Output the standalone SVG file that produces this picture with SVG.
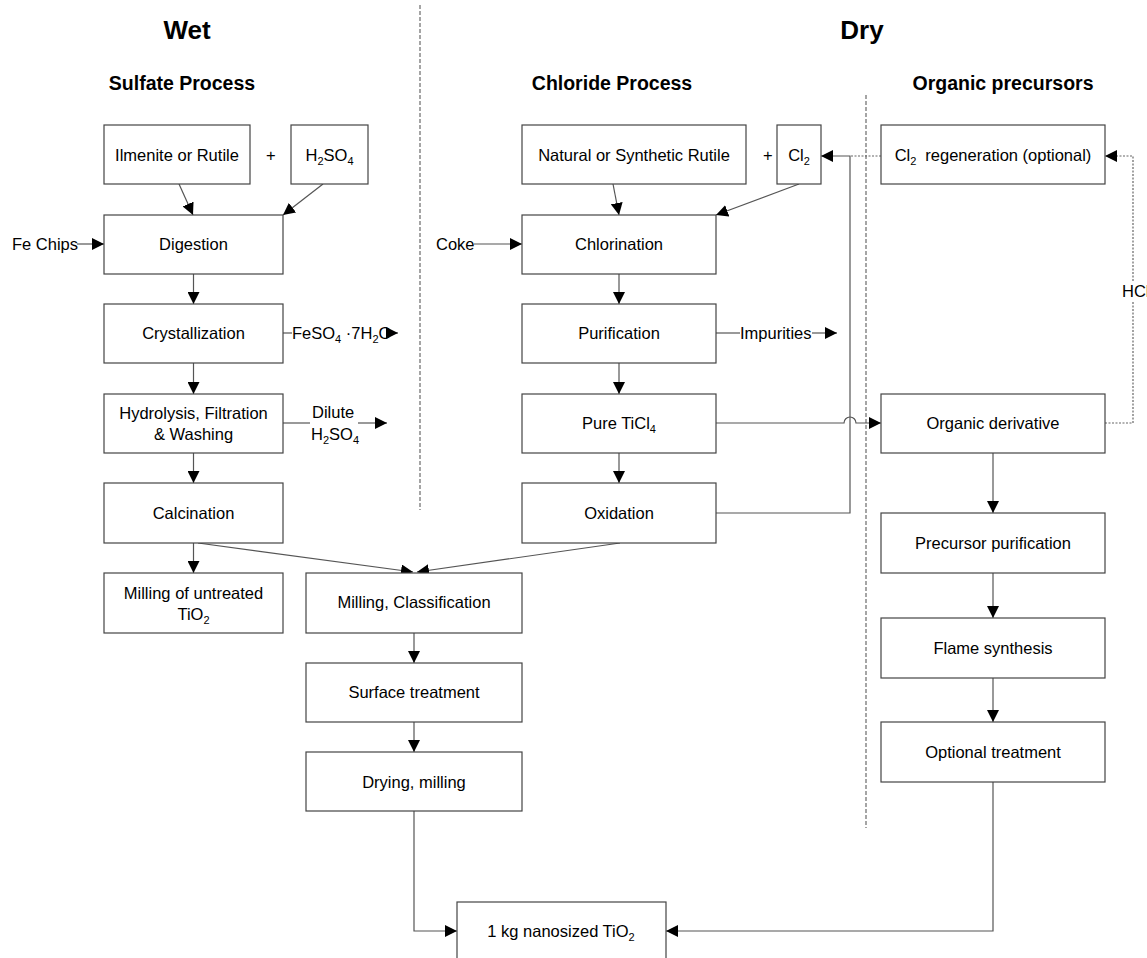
<svg xmlns="http://www.w3.org/2000/svg" width="1147" height="958" viewBox="0 0 1147 958">
<style>
text{font-family:"Liberation Sans",Arial,sans-serif;fill:#000}
.n{font-size:16.5px;text-anchor:middle}
.l{font-size:16.5px}
.t1{font-size:26px;font-weight:bold;text-anchor:middle}
.t2{font-size:19.5px;font-weight:bold;text-anchor:middle}
.box{fill:#fff;stroke:#444;stroke-width:1.2}
.c{fill:none;stroke:#555;stroke-width:1.2}
.d{fill:none;stroke:#666;stroke-width:1.2;stroke-dasharray:2,1.5}
.sep{fill:none;stroke:#888;stroke-width:1.5;stroke-dasharray:4,2}
.s{font-size:11px}
</style>
<defs>
<marker id="a" markerUnits="userSpaceOnUse" markerWidth="12" markerHeight="12" viewBox="0 0 12 12" refX="12" refY="6" orient="auto">
<path d="M0,0 L12,6 L0,12 z" fill="#000"/>
</marker>
</defs>
<rect width="1147" height="958" fill="#fff"/>

<g id="titles">
<text class="t1" x="187" y="39">Wet</text>
<text class="t1" x="862" y="39">Dry</text>
<text class="t2" x="182" y="90">Sulfate Process</text>
<text class="t2" x="612" y="90">Chloride Process</text>
<text class="t2" x="1003" y="90">Organic precursors</text>
</g>

<g id="separators">
<line class="sep" x1="420" y1="5" x2="420" y2="510"/>
<line class="sep" x1="866" y1="95" x2="866" y2="828"/>
</g>

<g id="connectors">
<line class="c" x1="77" y1="244" x2="104" y2="244" marker-end="url(#a)"/>
<line class="c" x1="474" y1="244" x2="522" y2="244" marker-end="url(#a)"/>
<line class="c" x1="179" y1="184" x2="193" y2="215" marker-end="url(#a)"/>
<line class="c" x1="323" y1="184" x2="283" y2="215" marker-end="url(#a)"/>
<line class="c" x1="613" y1="184" x2="619" y2="215" marker-end="url(#a)"/>
<line class="c" x1="799" y1="184" x2="716" y2="215" marker-end="url(#a)"/>
<line class="c" x1="193.5" y1="274" x2="193.5" y2="304" marker-end="url(#a)"/>
<line class="c" x1="193.5" y1="363" x2="193.5" y2="394" marker-end="url(#a)"/>
<line class="c" x1="193.5" y1="453" x2="193.5" y2="483" marker-end="url(#a)"/>
<line class="c" x1="193.5" y1="543" x2="193.5" y2="573" marker-end="url(#a)"/>
<line class="c" x1="619" y1="274" x2="619" y2="304" marker-end="url(#a)"/>
<line class="c" x1="619" y1="363" x2="619" y2="394" marker-end="url(#a)"/>
<line class="c" x1="619" y1="453" x2="619" y2="483" marker-end="url(#a)"/>
<line class="c" x1="283" y1="333" x2="292" y2="333"/>
<line class="c" x1="386" y1="333" x2="398" y2="333" marker-end="url(#a)"/>
<line class="c" x1="283" y1="423" x2="310" y2="423"/>
<line class="c" x1="358" y1="423" x2="387" y2="423" marker-end="url(#a)"/>
<line class="c" x1="716" y1="333" x2="740" y2="333"/>
<line class="c" x1="812" y1="333" x2="837" y2="333" marker-end="url(#a)"/>
<path class="c" d="M716,423 H844 A6,6 0 0 1 856,423 H881" marker-end="url(#a)"/>
<path class="c" d="M716,513 H850 V156 H821" marker-end="url(#a)"/>
<line class="d" x1="881" y1="156" x2="850" y2="156"/>
<path class="d" d="M1105,423 H1133 V301"/>
<path class="d" d="M1133,281 V156 H1105" marker-end="url(#a)"/>
<line class="c" x1="198" y1="543" x2="413" y2="572" marker-end="url(#a)"/>
<line class="c" x1="620" y1="543" x2="417" y2="572" marker-end="url(#a)"/>
<line class="c" x1="414" y1="633" x2="414" y2="663" marker-end="url(#a)"/>
<line class="c" x1="414" y1="722" x2="414" y2="752" marker-end="url(#a)"/>
<path class="c" d="M414,811 V931 H457" marker-end="url(#a)"/>
<path class="c" d="M993,782 V931 H666" marker-end="url(#a)"/>
<line class="c" x1="993" y1="453" x2="993" y2="513" marker-end="url(#a)"/>
<line class="c" x1="993" y1="573" x2="993" y2="618" marker-end="url(#a)"/>
<line class="c" x1="993" y1="678" x2="993" y2="722" marker-end="url(#a)"/>
</g>

<g id="edge-labels">
<text class="l" x="12" y="250">Fe Chips</text>
<text class="l" x="436" y="250">Coke</text>
<text class="l" x="292" y="339">FeSO<tspan class="s" dy="4">4</tspan><tspan dy="-4"> ·7H</tspan><tspan class="s" dy="4">2</tspan><tspan dy="-4">O</tspan></text>
<text class="l" x="312" y="418">Dilute</text>
<text class="l" x="311" y="440">H<tspan class="s" dy="4">2</tspan><tspan dy="-4">SO</tspan><tspan class="s" dy="4">4</tspan></text>
<text class="l" x="740" y="339">Impurities</text>
<text class="l" x="1122" y="297">HCl</text>
<text class="l" x="266" y="161">+</text>
<text class="l" x="763" y="161">+</text>
</g>

<g id="n-ilmenite"><rect class="box" x="104" y="125" width="146" height="59"/><text class="n" x="177" y="161">Ilmenite or Rutile</text></g>
<g id="n-h2so4"><rect class="box" x="291" y="125" width="77" height="59"/><text class="n" x="329.5" y="161">H<tspan class="s" dy="4">2</tspan><tspan dy="-4">SO</tspan><tspan class="s" dy="4">4</tspan></text></g>
<g id="n-digestion"><rect class="box" x="104" y="215" width="179" height="59"/><text class="n" x="193.5" y="250">Digestion</text></g>
<g id="n-crystallization"><rect class="box" x="104" y="304" width="179" height="59"/><text class="n" x="193.5" y="339">Crystallization</text></g>
<g id="n-hydrolysis"><rect class="box" x="104" y="394" width="179" height="59"/><text class="n" x="193.5" y="419">Hydrolysis, Filtration</text><text class="n" x="193.5" y="440">&amp; Washing</text></g>
<g id="n-calcination"><rect class="box" x="104" y="483" width="179" height="60"/><text class="n" x="193.5" y="519">Calcination</text></g>
<g id="n-milling-untreated"><rect class="box" x="104" y="573" width="179" height="60"/><text class="n" x="193.5" y="599">Milling of untreated</text><text class="n" x="193.5" y="620">TiO<tspan class="s" dy="4">2</tspan></text></g>

<g id="n-rutile"><rect class="box" x="522" y="125" width="224" height="59"/><text class="n" x="634" y="161">Natural or Synthetic Rutile</text></g>
<g id="n-cl2"><rect class="box" x="777" y="125" width="44" height="59"/><text class="n" x="799" y="161">Cl<tspan class="s" dy="4">2</tspan></text></g>
<g id="n-chlorination"><rect class="box" x="522" y="215" width="194" height="59"/><text class="n" x="619" y="250">Chlorination</text></g>
<g id="n-purification"><rect class="box" x="522" y="304" width="194" height="59"/><text class="n" x="619" y="339">Purification</text></g>
<g id="n-ticl4"><rect class="box" x="522" y="394" width="194" height="59"/><text class="n" x="619" y="429">Pure TiCl<tspan class="s" dy="4">4</tspan></text></g>
<g id="n-oxidation"><rect class="box" x="522" y="483" width="194" height="60"/><text class="n" x="619" y="519">Oxidation</text></g>

<g id="n-cl2-regen"><rect class="box" x="881" y="125" width="224" height="59"/><text class="n" x="993" y="161">Cl<tspan class="s" dy="4">2</tspan><tspan dy="-4" dx="9">regeneration (optional)</tspan></text></g>
<g id="n-organic"><rect class="box" x="881" y="394" width="224" height="59"/><text class="n" x="993" y="429">Organic derivative</text></g>
<g id="n-precursor"><rect class="box" x="881" y="513" width="224" height="60"/><text class="n" x="993" y="549">Precursor purification</text></g>
<g id="n-flame"><rect class="box" x="881" y="618" width="224" height="60"/><text class="n" x="993" y="654">Flame synthesis</text></g>
<g id="n-optional"><rect class="box" x="881" y="722" width="224" height="60"/><text class="n" x="993" y="758">Optional treatment</text></g>

<g id="n-milling-class"><rect class="box" x="306" y="573" width="216" height="60"/><text class="n" x="414" y="608">Milling, Classification</text></g>
<g id="n-surface"><rect class="box" x="306" y="663" width="216" height="59"/><text class="n" x="414" y="698">Surface treatment</text></g>
<g id="n-drying"><rect class="box" x="306" y="752" width="216" height="59"/><text class="n" x="414" y="788">Drying, milling</text></g>
<g id="n-final"><rect class="box" x="457" y="902" width="209" height="70"/><text class="n" x="561" y="937">1 kg nanosized TiO<tspan class="s" dy="4">2</tspan></text></g>
</svg>
